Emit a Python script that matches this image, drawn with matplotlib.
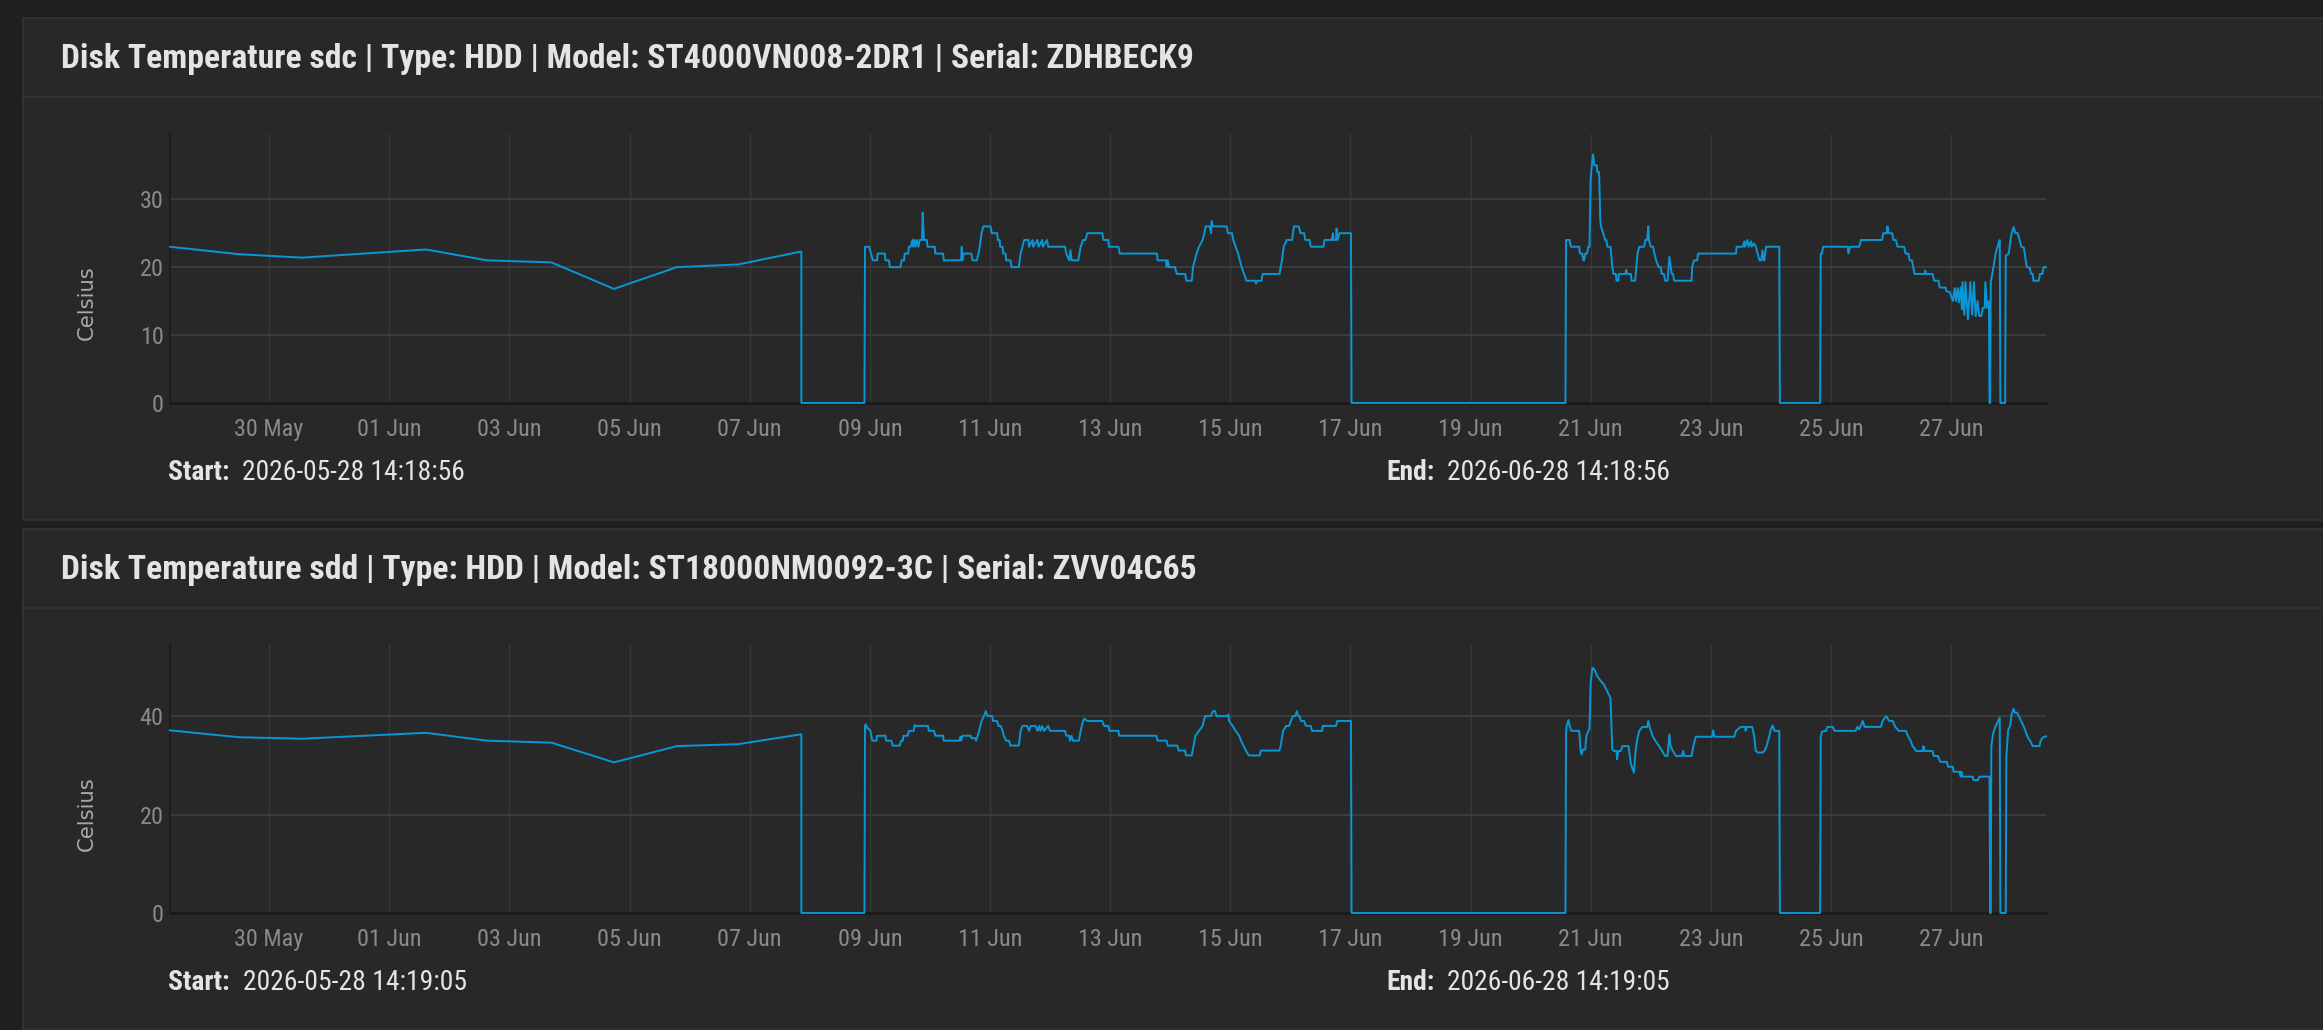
import numpy as np
import matplotlib
matplotlib.use("Agg")
import matplotlib.pyplot as plt
import matplotlib.dates as mdates
from matplotlib.patches import Rectangle
from matplotlib.lines import Line2D
from matplotlib import font_manager

# ---------------- data ----------------
BASE_DATE = "2026-05-28T00:00"   # day offsets below are counted from this moment

titles = [
    "Disk Temperature sdc | Type: HDD | Model: ST4000VN008-2DR1 | Serial: ZDHBECK9",
    "Disk Temperature sdd | Type: HDD | Model: ST18000NM0092-3C | Serial: ZVV04C65",
]
starts = ["2026-05-28 14:18:56", "2026-05-28 14:19:05"]
ends = ["2026-06-28 14:18:56", "2026-06-28 14:19:05"]
y_label = "Celsius"

tick_dates = ["2026-05-30", "2026-06-01", "2026-06-03", "2026-06-05", "2026-06-07",
              "2026-06-09", "2026-06-11", "2026-06-13", "2026-06-15", "2026-06-17",
              "2026-06-19", "2026-06-21", "2026-06-23", "2026-06-25", "2026-06-27"]
sdc_yticks = [0, 10, 20, 30]
sdd_yticks = [0, 20, 40]
sdc_ymax = 39.6
sdd_ymax = 54.7

sdc_days = [
    0.35, 1.50, 2.55, 4.61, 5.63, 6.70, 7.74, 8.79, 9.81, 10.86,
    10.86, 11.91, 11.92, 11.99, 12.02, 12.05, 12.12, 12.13, 12.25, 12.26,
    12.32, 12.33, 12.51, 12.53, 12.57, 12.58, 12.64, 12.65, 12.68, 12.71,
    12.72, 12.74, 12.76, 12.78, 12.81, 12.83, 12.87, 12.88, 12.90, 12.95,
    12.96, 13.08, 13.09, 13.22, 13.23, 13.52, 13.53, 13.54, 13.56, 13.69,
    13.71, 13.78, 13.81, 13.83, 13.86, 13.89, 14.01, 14.03, 14.12, 14.13,
    14.16, 14.17, 14.21, 14.22, 14.26, 14.27, 14.34, 14.36, 14.48, 14.51,
    14.54, 14.57, 14.64, 14.65, 14.71, 14.72, 14.79, 14.81, 14.87, 14.88,
    14.95, 14.97, 15.25, 15.27, 15.32, 15.34, 15.36, 15.47, 15.51, 15.55,
    15.59, 15.62, 15.87, 15.89, 15.97, 15.98, 16.14, 16.16, 16.78, 16.79,
    16.93, 16.94, 16.96, 16.98, 17.08, 17.11, 17.25, 17.27, 17.36, 17.38,
    17.41, 17.44, 17.48, 17.54, 17.57, 17.59, 17.66, 17.68, 17.69, 17.71,
    17.94, 17.96, 18.03, 18.05, 18.09, 18.13, 18.16, 18.19, 18.23, 18.27,
    18.41, 18.43, 18.45, 18.52, 18.54, 18.82, 18.86, 18.89, 18.94, 19.03,
    19.06, 19.14, 19.17, 19.23, 19.25, 19.32, 19.34, 19.55, 19.57, 19.69,
    19.71, 19.72, 19.76, 19.77, 19.79, 19.82, 20.01, 20.02, 23.58, 23.59,
    23.65, 23.67, 23.81, 23.82, 23.86, 23.88, 23.89, 23.91, 23.94, 23.96,
    23.98, 24.00, 24.02, 24.04, 24.06, 24.10, 24.11, 24.14, 24.16, 24.17,
    24.21, 24.24, 24.26, 24.28, 24.33, 24.36, 24.38, 24.42, 24.43, 24.46,
    24.47, 24.58, 24.59, 24.61, 24.67, 24.68, 24.74, 24.78, 24.81, 24.89,
    24.91, 24.94, 24.96, 24.97, 25.00, 25.04, 25.06, 25.09, 25.13, 25.17,
    25.18, 25.22, 25.24, 25.28, 25.31, 25.35, 25.37, 25.39, 25.68, 25.69,
    25.72, 25.77, 25.79, 26.42, 26.43, 26.53, 26.56, 26.57, 26.61, 26.63,
    26.67, 26.68, 26.72, 26.75, 26.78, 26.81, 26.84, 26.86, 26.88, 26.89,
    26.92, 27.14, 27.15, 27.82, 27.83, 27.85, 27.87, 28.28, 28.29, 28.32,
    28.47, 28.50, 28.85, 28.87, 28.93, 28.94, 28.96, 29.02, 29.04, 29.08,
    29.11, 29.22, 29.24, 29.29, 29.31, 29.35, 29.37, 29.39, 29.56, 29.57,
    29.58, 29.69, 29.72, 29.79, 29.81, 29.91, 29.92, 29.98, 30.03, 30.06,
    30.08, 30.11, 30.13, 30.16, 30.18, 30.19, 30.22, 30.24, 30.28, 30.32,
    30.35, 30.38, 30.41, 30.44, 30.47, 30.50, 30.53, 30.56, 30.57, 30.60,
    30.63, 30.64, 30.65, 30.66, 30.71, 30.74, 30.78, 30.81, 30.82, 30.90,
    30.91, 30.96, 31.00, 31.04, 31.07, 31.11, 31.17, 31.21, 31.26, 31.31,
    31.33, 31.36, 31.37, 31.46, 31.48, 31.52, 31.54, 31.58,
]
sdc_temp = [
    23.0, 21.9, 21.4, 22.6, 21.0, 20.7, 16.8, 20.0, 20.4, 22.3,
    0, 0, 23, 23, 22, 21, 21, 22, 22, 21,
    21, 20, 20, 21, 21, 22, 22, 23, 23, 24,
    23, 24, 23, 24, 23, 24, 24, 28, 24, 24,
    23, 23, 22, 22, 21, 21, 23, 21, 22, 22,
    21, 21, 22, 23, 25, 26, 26, 25, 25, 24,
    24, 23, 23, 22, 22, 21, 21, 20, 20, 22,
    23, 24, 24, 23, 24, 23, 24, 23, 24, 23,
    24, 23, 23, 22, 21, 22.5, 21, 21, 23, 24,
    24, 25, 25, 24, 24, 23, 23, 22, 22, 21,
    21, 20, 21, 20, 20, 19, 19, 18, 18, 20,
    21, 22, 23, 24, 25, 26, 26, 25, 26.8, 26,
    26, 25, 25, 24, 23, 22, 21, 20, 19, 18,
    18, 17.6, 18, 18, 19, 19, 21, 23, 24, 24,
    26, 26, 25, 25, 24, 24, 23, 23, 24, 24,
    25, 24, 24, 25.7, 24, 25, 25, 0, 0, 24,
    24, 23, 23, 22, 22, 21, 21, 22, 22, 23,
    23, 33, 35, 36.6, 35, 35, 34, 34, 27, 26,
    25, 24, 24, 23, 23, 20, 19, 19, 18, 18,
    19, 19, 19.6, 19, 19, 18, 18, 22, 23, 23,
    24, 24, 26, 24, 23, 23, 22, 21, 20, 20,
    19, 19, 18, 18, 21.5, 19, 19, 18, 18, 20,
    21, 21, 22, 22, 23, 23, 23.8, 23, 24, 23,
    23.8, 23, 23.5, 23, 22, 21, 21, 22.5, 21, 21,
    23, 23, 0, 0, 22, 22, 23, 23, 22, 23,
    23, 24, 24, 25, 25, 26, 25, 25, 24, 24,
    23, 23, 22, 22, 21, 21, 20, 19, 19, 19.5,
    19, 19, 18, 18, 17, 17, 16.5, 16.3, 15, 16.9,
    15, 16.9, 14.8, 17, 13.8, 17.8, 13, 17.8, 12.3, 17.8,
    13, 17.8, 12.8, 15, 12.8, 12.8, 14, 14, 17.8, 14,
    15, 0, 0, 17.8, 20.2, 22, 23.2, 24, 0, 0,
    21.7, 22, 24.7, 25.9, 25, 25, 23, 22.9, 20, 19.9,
    19, 19, 18, 18, 19, 19, 20, 20,
]

sdd_days = [
    0.35, 1.50, 2.55, 4.61, 5.63, 6.70, 7.74, 8.79, 9.81, 10.86,
    10.86, 11.91, 11.92, 11.93, 11.96, 11.97, 12.01, 12.04, 12.11, 12.12,
    12.26, 12.27, 12.36, 12.38, 12.50, 12.52, 12.55, 12.56, 12.63, 12.65,
    12.73, 12.75, 12.76, 12.97, 12.98, 13.07, 13.09, 13.22, 13.23, 13.49,
    13.51, 13.52, 13.54, 13.68, 13.69, 13.76, 13.77, 13.82, 13.86, 13.90,
    13.93, 13.96, 14.04, 14.05, 14.12, 14.14, 14.18, 14.21, 14.23, 14.27,
    14.32, 14.34, 14.48, 14.51, 14.54, 14.62, 14.65, 14.68, 14.76, 14.79,
    14.82, 14.84, 14.87, 14.90, 14.97, 15.00, 15.25, 15.27, 15.32, 15.33,
    15.36, 15.38, 15.48, 15.51, 15.55, 15.57, 15.62, 15.87, 15.90, 15.97,
    15.99, 16.14, 16.15, 16.77, 16.79, 16.94, 16.96, 17.12, 17.14, 17.25,
    17.26, 17.36, 17.42, 17.48, 17.54, 17.58, 17.68, 17.71, 17.75, 17.77,
    17.96, 17.97, 17.98, 18.04, 18.09, 18.15, 18.18, 18.22, 18.26, 18.31,
    18.49, 18.51, 18.82, 18.84, 18.88, 18.93, 18.98, 19.04, 19.08, 19.11,
    19.13, 19.15, 19.18, 19.23, 19.26, 19.34, 19.36, 19.53, 19.54, 19.76,
    19.78, 20.01, 20.02, 23.58, 23.59, 23.60, 23.63, 23.65, 23.68, 23.81,
    23.83, 23.85, 23.87, 23.91, 23.93, 23.96, 23.98, 24.00, 24.03, 24.06,
    24.11, 24.17, 24.22, 24.26, 24.31, 24.33, 24.36, 24.39, 24.43, 24.44,
    24.46, 24.50, 24.53, 24.63, 24.67, 24.72, 24.75, 24.78, 24.81, 24.86,
    24.94, 24.96, 24.98, 25.03, 25.08, 25.14, 25.19, 25.24, 25.28, 25.31,
    25.33, 25.37, 25.42, 25.52, 25.54, 25.56, 25.68, 25.71, 25.75, 26.02,
    26.04, 26.06, 26.39, 26.42, 26.50, 26.57, 26.58, 26.60, 26.69, 26.72,
    26.75, 26.78, 26.86, 26.89, 26.93, 26.96, 27.00, 27.03, 27.06, 27.14,
    27.15, 27.82, 27.83, 27.85, 27.90, 27.92, 27.94, 28.03, 28.06, 28.41,
    28.44, 28.47, 28.50, 28.53, 28.56, 28.83, 28.86, 28.92, 28.97, 29.03,
    29.07, 29.13, 29.25, 29.28, 29.33, 29.36, 29.42, 29.53, 29.54, 29.56,
    29.69, 29.71, 29.78, 29.82, 29.93, 29.95, 30.03, 30.04, 30.14, 30.16,
    30.17, 30.19, 30.36, 30.37, 30.45, 30.47, 30.64, 30.65, 30.66, 30.67,
    30.70, 30.74, 30.78, 30.81, 30.82, 30.91, 30.92, 30.95, 30.98, 31.01,
    31.04, 31.06, 31.10, 31.13, 31.17, 31.21, 31.24, 31.27, 31.30, 31.32,
    31.36, 31.47, 31.49, 31.52, 31.58,
]
sdd_temp = [
    37.1, 35.7, 35.4, 36.6, 35.0, 34.6, 30.6, 33.9, 34.3, 36.3,
    0, 0, 38, 38.3, 37.5, 37.5, 37, 35, 35, 36,
    36, 35, 35, 34, 34, 35, 35, 36, 36, 37,
    37, 38.2, 38, 38, 37, 37, 36, 36, 35, 35,
    35.8, 35, 36, 36, 35.5, 35.5, 35, 37, 39, 40,
    41, 40, 40, 39, 39, 38, 38, 37, 36, 35,
    35, 34, 34, 37, 38, 38, 37, 38, 38, 37,
    38, 37, 38, 37, 38, 37, 37, 36, 36, 35,
    36, 35, 35, 37, 39, 39.5, 39, 39, 38, 38,
    37, 37, 36, 36, 35, 35, 34, 34, 33, 33,
    32, 32, 36, 37, 38, 40, 40, 41, 41, 40,
    40, 40.3, 39, 38, 37, 36, 35, 34, 33, 32,
    32, 33, 33, 34, 37, 38, 38, 40, 40, 41,
    40, 40, 39, 39, 38, 38, 37, 37, 38, 38,
    39, 39, 0, 0, 36.6, 38, 39.2, 38, 37, 37,
    33.2, 32.2, 33.2, 33.2, 36, 37, 37.3, 46.8, 49.8, 49.5,
    48.1, 47.1, 46.4, 45.4, 44.1, 43.7, 33.2, 32.9, 32.9, 31.2,
    32.9, 32.9, 33.9, 33.9, 30.2, 28.5, 33.2, 35.6, 37, 37.8,
    37.8, 39, 37.8, 36, 34.9, 33.9, 32.9, 31.9, 31.9, 36.3,
    33.9, 32.9, 31.9, 31.9, 32.9, 31.9, 31.9, 33.9, 35.8, 35.8,
    37.1, 35.8, 35.8, 37, 37.8, 37.8, 37, 37.8, 37.8, 36,
    32.9, 32.6, 32.6, 32.9, 33.9, 35.3, 37.3, 38.1, 37, 37,
    0, 0, 35.8, 36.8, 37, 37, 37.8, 37.8, 37, 37,
    37.8, 37.3, 38.1, 39, 37.8, 37.8, 39, 40, 39, 39,
    37.8, 37, 37, 36, 34.9, 33.9, 32.9, 32.9, 33.9, 32.9,
    32.9, 31.9, 31.9, 30.7, 30.7, 29.7, 29.7, 28.7, 28.7, 27.7,
    28.7, 27.7, 27.7, 27, 27, 27.7, 27.7, 0, 0, 33.8,
    36.5, 37.9, 38.9, 39.7, 0, 0, 31.8, 37.2, 37.9, 40.5,
    41.5, 40.7, 40.7, 39.9, 38.9, 37.9, 36.9, 35.9, 35.2, 34.9,
    33.9, 33.9, 34.9, 35.6, 35.9,
]
assert len(sdc_days) == len(sdc_temp), (len(sdc_days), len(sdc_temp))
assert len(sdd_days) == len(sdd_temp), (len(sdd_days), len(sdd_temp))

# ---------------- style ----------------
W, H, DPI = 2323, 1030, 100
OUTER = "#1f1f1f"
PANEL = "#282828"
BORDER = "#343434"
LINE = "#0a96d6"
TEXT = "#e4e4e4"
TICK = "#8a8a8a"

avail = {f.name for f in font_manager.fontManager.ttflist}
NARROW = dict(family="Liberation Sans")
for cand in ["Liberation Sans Narrow", "Roboto Condensed", "Open Sans Condensed",
             "Roboto", "Liberation Sans"]:
    if cand in avail:
        NARROW = dict(family=cand)
        break

fig = plt.figure(figsize=(W / DPI, H / DPI), dpi=DPI, facecolor=OUTER)
renderer = fig.canvas.get_renderer()


def fx(px):
    return px / W


def fy(py):
    return 1 - py / H


def width_px(txt):
    return txt.get_window_extent(renderer).width


def fit(txt, target_w):
    txt.set_fontsize(txt.get_fontsize() * target_w / width_px(txt))
    return txt.get_fontsize()


base_num = mdates.date2num(np.datetime64(BASE_DATE))
tick_nums = mdates.date2num(np.array(tick_dates, dtype="datetime64[m]"))

# measure tick font size
probe = fig.text(0, 0, "30 May", fontsize=10, **NARROW)
tick_fs = fit(probe, 69)
probe.remove()

panels = [
    dict(top=18, bottom=520, sep=97, title_y=59, ax_top=134, ax_bot=403,
         foot_y=472, ylab_y=303),
    dict(top=529, bottom=1029, sep=607.5, title_y=570, ax_top=643.7, ax_bot=913,
         foot_y=982, ylab_y=814),
]
series = [(sdc_days, sdc_temp, sdc_yticks, sdc_ymax),
          (sdd_days, sdd_temp, sdd_yticks, sdd_ymax)]

title_fs = None
for i, (p, (days, temps, yt, ymax)) in enumerate(zip(panels, series)):
    fig.patches.append(Rectangle((fx(23), fy(p["bottom"])), fx(2400 - 23),
                                 (p["bottom"] - p["top"]) / H,
                                 transform=fig.transFigure, facecolor=PANEL,
                                 edgecolor=BORDER, lw=1.2, zorder=-3))
    fig.lines.append(Line2D([fx(23), 1], [fy(p["sep"])] * 2, transform=fig.transFigure,
                            color=BORDER, lw=1.2, zorder=-2))
    t = fig.text(fx(61), fy(p["title_y"]), titles[i], ha="left", va="center",
                 color=TEXT, weight="bold", fontsize=22, **NARROW)
    if title_fs is None:
        title_fs = fit(t, 1129)
    else:
        t.set_fontsize(title_fs)

    ax = fig.add_axes([fx(170), fy(p["ax_bot"]), fx(2046 - 170),
                       (p["ax_bot"] - p["ax_top"]) / H])
    ax.set_facecolor(PANEL)
    x = base_num + np.asarray(days)
    ax.plot(x, temps, color=LINE, lw=1.4, zorder=5, clip_on=False)
    ax.set_xlim(x[0], x[-1])
    ax.set_ylim(0, ymax)
    ax.set_xticks(tick_nums)
    ax.xaxis.set_major_formatter(mdates.DateFormatter("%d %b"))
    ax.set_yticks(yt)
    ax.tick_params(length=0, colors=TICK, labelsize=tick_fs)
    ax.tick_params(axis="x", pad=11)
    ax.tick_params(axis="y", pad=4.5)
    for lab in ax.get_xticklabels() + ax.get_yticklabels():
        lab.set_family(NARROW["family"])
    ax.grid(axis="x", color="#383838", lw=1)
    for v in yt[1:]:
        ax.axhline(v, color="#3f3f3f", lw=1.2, zorder=1)
    for s in ["top", "right"]:
        ax.spines[s].set_visible(False)
    ax.spines["bottom"].set_color("#1a1a1a")
    ax.spines["bottom"].set_linewidth(2)
    ax.spines["left"].set_color("#1c1c1c")
    ax.spines["left"].set_linewidth(1.2)
    ax.set_axisbelow(True)

    yl = fig.text(fx(86.5), fy(p["ylab_y"]), y_label, rotation=90, ha="center",
                  va="center", color="#a8a8a8", fontsize=12, family="DejaVu Sans")
    fit_h = yl.get_window_extent(renderer).height
    yl.set_fontsize(yl.get_fontsize() * 75 / fit_h)

    # footer: bold label + value, spanning like the reference
    for lx, lab, val in [(168, "Start:", starts[i]), (1386, "End:", ends[i])]:
        a = fig.text(fx(lx), fy(p["foot_y"]), lab, ha="left", va="center",
                     color=TEXT, weight="bold", fontsize=15, **NARROW)
        b = fig.text(0, fy(p["foot_y"]), val, ha="left", va="center",
                     color=TEXT, fontsize=15, **NARROW)
        fs = fit(b, 224)
        a.set_fontsize(fs)
        b.set_x(fx(lx + width_px(a) + 13))

fig.savefig("out.png", dpi=DPI, facecolor=OUTER)
